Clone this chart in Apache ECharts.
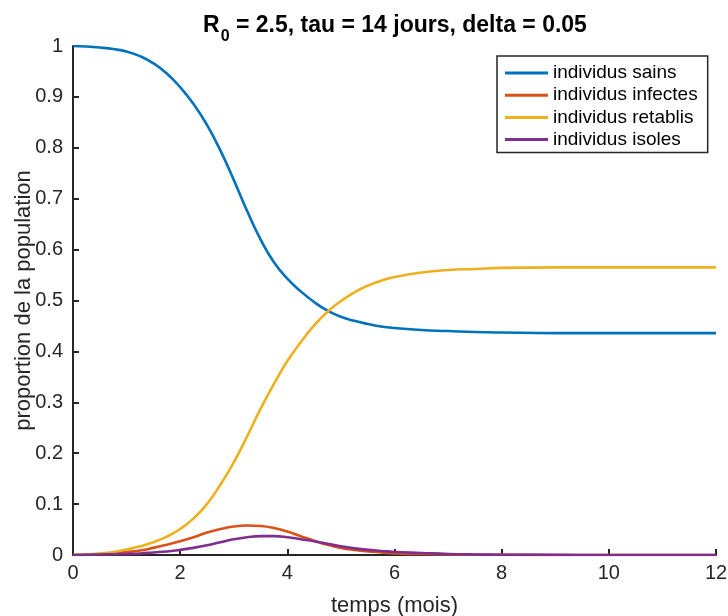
<!DOCTYPE html>
<html>
<head>
<meta charset="utf-8">
<script src="https://cdn.jsdelivr.net/npm/echarts@6/dist/echarts.min.js"></script>
<style>
  html, body { margin: 0; padding: 0; background: #fff; }
  #chart { width: 728px; height: 616px; }
</style>
</head>
<body>
<div id="chart"></div>
<script>
// Time in months
const times = [0, 0.25, 0.5, 0.75, 1, 1.25, 1.5, 1.75, 2, 2.25, 2.5, 2.75, 3, 3.25, 3.5, 3.75,
  4, 4.25, 4.5, 4.75, 5, 5.25, 5.5, 5.75, 6, 6.5, 7, 7.5, 8, 9, 10, 11, 12];

// Population fractions per compartment
const sains = [1.000, 0.999, 0.997, 0.994, 0.989, 0.980, 0.966, 0.946, 0.919, 0.886, 0.845, 0.795,
  0.737, 0.676, 0.620, 0.575, 0.543, 0.518, 0.497, 0.480, 0.468, 0.460, 0.454, 0.449, 0.446,
  0.442, 0.440, 0.438, 0.437, 0.436, 0.436, 0.436, 0.436];
const infectes = [0.0005, 0.001, 0.002, 0.004, 0.006, 0.009, 0.014, 0.020, 0.027, 0.035, 0.044, 0.051,
  0.056, 0.058, 0.057, 0.053, 0.046, 0.037, 0.028, 0.020, 0.014, 0.010, 0.007, 0.005, 0.003,
  0.002, 0.001, 0.0005, 0.0003, 0.0001, 0, 0, 0];
const retablis = [0, 0.001, 0.003, 0.006, 0.011, 0.017, 0.025, 0.036, 0.051, 0.072, 0.100, 0.138,
  0.182, 0.233, 0.287, 0.336, 0.381, 0.418, 0.451, 0.478, 0.499, 0.516, 0.529, 0.539, 0.546,
  0.555, 0.560, 0.562, 0.564, 0.565, 0.565, 0.565, 0.565];
const isoles = [0, 0.0003, 0.001, 0.0015, 0.002, 0.003, 0.005, 0.007, 0.010, 0.014, 0.019, 0.025,
  0.031, 0.035, 0.037, 0.037, 0.035, 0.031, 0.027, 0.022, 0.017, 0.013, 0.010, 0.008, 0.006,
  0.004, 0.002, 0.001, 0.0006, 0.0002, 0.0001, 0, 0];

const seriesNames = ['individus sains', 'individus infectes', 'individus retablis', 'individus isoles'];
const seriesValues = [sains, infectes, retablis, isoles];
const colors = ['#0072BD', '#D95319', '#EDB120', '#7E2F8E'];

const FONT = '"Liberation Sans", Arial, Helvetica, sans-serif';
const AXIS_COLOR = '#262626';

const chart = echarts.init(document.getElementById('chart'), null, { renderer: 'canvas' });

chart.setOption({
  animation: false,
  backgroundColor: '#ffffff',
  textStyle: { fontFamily: FONT },
  title: {
    text: '{b|R}{s|0}{b| = 2.5, tau = 14 jours, delta = 0.05}',
    left: 390,
    textAlign: 'center',
    top: 6,
    textStyle: {
      rich: {
        b: { fontFamily: FONT, fontWeight: 'bold', fontSize: 23, color: '#000', verticalAlign: 'bottom', lineHeight: 26 },
        s: { fontFamily: FONT, fontWeight: 'bold', fontSize: 16, color: '#000', padding: [0, 0, -8, 1], verticalAlign: 'bottom', lineHeight: 26 }
      }
    }
  },
  legend: {
    orient: 'vertical',
    left: 497,
    top: 56,
    padding: [7, 10, 3, 8],
    itemGap: 2.2,
    itemWidth: 43,
    itemHeight: 3,
    icon: 'rect',
    borderColor: AXIS_COLOR,
    borderWidth: 1.5,
    backgroundColor: '#fff',
    textStyle: { fontFamily: FONT, fontSize: 19, color: '#000', lineHeight: 20 },
    data: seriesNames
  },
  grid: { left: 73, right: 12, top: 46, bottom: 61, containLabel: false, outerBoundsMode: 'none' },
  xAxis: {
    type: 'value',
    min: 0, max: 12, interval: 2,
    name: 'temps (mois)',
    nameLocation: 'middle',
    nameGap: 40,
    nameMoveOverlap: false,
    nameTextStyle: { fontFamily: FONT, fontSize: 22, color: '#262626' },
    axisLine: { show: true, lineStyle: { color: AXIS_COLOR, width: 2 } },
    axisTick: { show: true, inside: true, length: 6, lineStyle: { color: AXIS_COLOR, width: 2 } },
    axisLabel: { fontFamily: FONT, fontSize: 20, color: '#262626', margin: 8 },
    splitLine: { show: false }
  },
  yAxis: {
    type: 'value',
    min: 0, max: 1, interval: 0.1,
    name: 'proportion de la population',
    nameLocation: 'middle',
    nameGap: 38,
    nameMoveOverlap: false,
    nameRotate: 90,
    nameTextStyle: { fontFamily: FONT, fontSize: 22, color: '#262626' },
    axisLine: { show: true, lineStyle: { color: AXIS_COLOR, width: 2 } },
    axisTick: { show: true, inside: true, length: 6, lineStyle: { color: AXIS_COLOR, width: 2 } },
    axisLabel: { fontFamily: FONT, fontSize: 20, color: '#262626', margin: 10 },
    splitLine: { show: false }
  },
  series: seriesNames.map((name, k) => ({
    name: name,
    type: 'line',
    smooth: 0.5,
    showSymbol: false,
    symbol: 'none',
    color: colors[k],
    lineStyle: { color: colors[k], width: 2.6 },
    data: times.map((t, i) => [t, seriesValues[k][i]])
  }))
});
</script>
</body>
</html>
